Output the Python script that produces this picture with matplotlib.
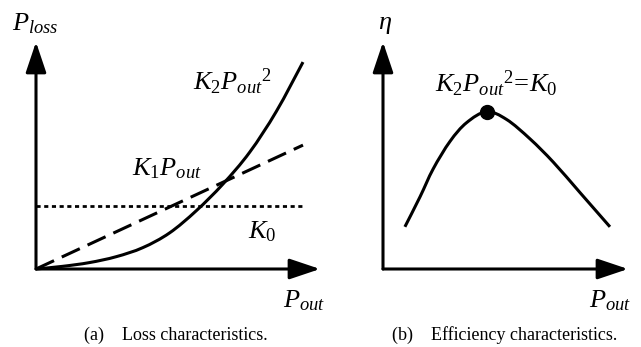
import matplotlib
matplotlib.use("Agg")
import matplotlib.pyplot as plt
from matplotlib.path import Path
from matplotlib.patches import PathPatch
import numpy as np

plt.rcParams['font.family'] = ['Liberation Serif', 'DejaVu Serif']
plt.rcParams['mathtext.fontset'] = 'custom'
plt.rcParams['mathtext.rm'] = 'Liberation Serif'
plt.rcParams['mathtext.it'] = 'Liberation Serif:italic'
plt.rcParams['mathtext.bf'] = 'Liberation Serif:bold'

# ---- data (arbitrary normalized units) ----
# (a) loss characteristics
pout_a = [0.0, 0.1, 0.2, 0.3, 0.4, 0.5, 0.6, 0.7, 0.8, 0.9, 1.0]
loss_k2 = [0.0, 0.010, 0.024, 0.046, 0.080, 0.135, 0.218, 0.318, 0.437, 0.590, 0.775]
pout_lin = [0.0, 1.0]
loss_k1 = [0.0, 0.464]
loss_k0 = [0.236, 0.236]

# (b) efficiency characteristics
pout_b = [0.082, 0.139, 0.188, 0.251, 0.313, 0.388, 0.463, 0.551, 0.638, 0.738, 0.850]
eta = [0.158, 0.271, 0.375, 0.478, 0.548, 0.589, 0.560, 0.487, 0.400, 0.286, 0.158]
peak_x = [0.388]
peak_y = [0.589]

caption_a = '(a)    Loss characteristics.'
caption_b = '(b)    Efficiency characteristics.'

W, H = 641, 347
fig = plt.figure(figsize=(W / 100, H / 100), dpi=100)

LW = 2.2
FS = 19


def smooth_path(xs, ys):
    """Catmull-Rom through the given points, as cubic Bezier segments."""
    p = np.column_stack([xs, ys]).astype(float)
    n = len(p)
    verts = [p[0]]
    codes = [Path.MOVETO]
    for i in range(n - 1):
        p0 = p[i - 1] if i > 0 else p[i]
        p1 = p[i]
        p2 = p[i + 1]
        p3 = p[i + 2] if i + 2 < n else p[i + 1]
        c1 = p1 + (p2 - p0) / 6.0
        c2 = p2 - (p3 - p1) / 6.0
        verts += [c1, c2, p2]
        codes += [Path.CURVE4] * 3
    return Path(verts, codes)


def make_axes(x0_px, x1_px, y_top_px, y0_px, scale):
    ax = fig.add_axes([x0_px / W, (H - y0_px) / H, (x1_px - x0_px) / W, (y0_px - y_top_px) / H])
    ax.set_xlim(0, (x1_px - x0_px) / scale)
    ax.set_ylim(0, (y0_px - y_top_px) / scale)
    ax.axis('off')
    ap = dict(arrowstyle='-|>,head_length=1.25,head_width=0.42', mutation_scale=15,
              lw=LW, color='k', shrinkA=0, shrinkB=0)
    ax.annotate('', xy=(1, 0), xytext=(0, 0), xycoords='axes fraction',
                textcoords='axes fraction', arrowprops=ap, annotation_clip=False)
    ax.annotate('', xy=(0, 1), xytext=(0, 0), xycoords='axes fraction',
                textcoords='axes fraction', arrowprops=ap, annotation_clip=False)
    return ax


S = 267.0
axa = make_axes(36, 320, 42, 269, S)
axa.add_patch(PathPatch(smooth_path(pout_a, loss_k2), facecolor='none', edgecolor='k',
                        lw=LW, capstyle='butt', clip_on=False))
axa.plot(pout_lin, loss_k1, color='k', lw=LW, dashes=(6.5, 2.8), clip_on=False)
axa.plot(pout_lin, loss_k0, color='k', lw=LW * 0.9, dashes=(1.5, 1.3), clip_on=False)

axa.text(-0.090, 0.895, r'$P_{loss}$', fontsize=FS, va='baseline', ha='left')
axa.text(0.588, 0.670, r'$K_{\mathit{2}}{P_{out}}^{\mathit{2}}$', fontsize=FS, va='baseline', ha='left')
axa.text(0.360, 0.352, r'$K_{\mathit{1}}P_{out}$', fontsize=FS, va='baseline', ha='left')
axa.text(0.794, 0.116, r'$K_{\mathit{0}}$', fontsize=FS, va='baseline', ha='left')
axa.text(0.925, -0.142, r'$P_{out}$', fontsize=FS, va='baseline', ha='left', clip_on=False)

axb = make_axes(383, 628, 42, 269, S)
axb.add_patch(PathPatch(smooth_path(pout_b, eta), facecolor='none', edgecolor='k',
                        lw=LW, capstyle='butt', clip_on=False))
axb.plot(peak_x, peak_y, 'o', color='k', ms=10, clip_on=False)

axb.text(-0.019, 0.899, r'$\eta$', fontsize=FS, va='baseline', ha='left')
axb.text(0.195, 0.663, r'$K_{\mathit{2}}{P_{out}}^{\mathit{2}}\!=\!K_{\mathit{0}}$', fontsize=FS,
         va='baseline', ha='left')
axb.text(0.772, -0.142, r'$P_{out}$', fontsize=FS, va='baseline', ha='left', clip_on=False)

fig.text(176 / W, (H - 340) / H, caption_a, fontsize=13, ha='center', va='baseline')
fig.text(505 / W, (H - 340) / H, caption_b, fontsize=13, ha='center', va='baseline')

fig.savefig('out.png', dpi=100, facecolor='white')
